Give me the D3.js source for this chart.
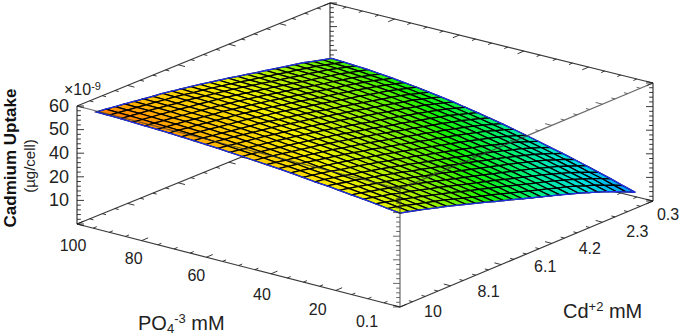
<!DOCTYPE html>
<html>
<head>
<meta charset="utf-8">
<script src="https://cdn.jsdelivr.net/npm/d3@7"></script>
<style>
  html, body { margin: 0; padding: 0; background: #fff; }
  svg { display: block; }
  text { font-family: "Liberation Sans", Arial, sans-serif; fill: #222; }
</style>
</head>
<body>
<div id="chart"></div>
<script>
// Axis labels
const phosphateTicks = [100, 80, 60, 40, 20, 0.1];
const phosphateLabels = ['100', '80', '60', '40', '20', '0.1'];
const cadmiumTicks = [10, 8.06, 6.12, 4.18, 2.24, 0.3];
const cadmiumLabels = ['10', '8.1', '6.1', '4.2', '2.3', '0.3'];
const uptakeTicks = [0, 10, 20, 40, 50, 60];
const uptakeLabels = ['10', '20', '40', '50', '60'];

// Grid levels of the surface (mM)
const phosphateLevels = [0.1, 3.9, 7.6, 11.4, 15.1, 18.9, 22.6, 26.4, 30.1, 33.9, 37.7, 41.4, 45.2, 48.9, 52.7, 56.4, 60.2, 63.9, 67.7, 71.5, 75.2, 79, 82.7, 86.5, 90.2, 94];
const cadmiumLevels = [10, 9.64, 9.28, 8.92, 8.56, 8.2, 7.84, 7.47, 7.11, 6.75, 6.39, 6.03, 5.67, 5.31, 4.95, 4.59, 4.23, 3.87, 3.51, 3.15, 2.78, 2.42, 2.06, 1.7, 1.34, 0.98];

// Uptake (x10^-9 ug/cell), one row per cadmium level, one column per phosphate level
const uptake = [
  [49.8,50.4,51.1,51.7,52.2,52.8,53.4,53.8,54.4,54.9,55.4,55.8,56.2,56.6,57,57.4,57.7,58,58.3,58.6,58.8,59,59.2,59.4,59.5,59.6],
  [48.8,49.5,50.1,50.8,51.4,52,52.6,53.1,53.6,54.2,54.7,55.1,55.6,56,56.4,56.8,57.2,57.5,57.8,58.1,58.3,58.5,58.7,58.9,59,59.1],
  [47.7,48.4,49.1,49.8,50.4,51.1,51.6,52.2,52.8,53.3,53.9,54.3,54.8,55.3,55.7,56.1,56.5,56.8,57.2,57.4,57.7,57.9,58.1,58.3,58.4,58.5],
  [46.6,47.3,48.1,48.8,49.5,50.1,50.8,51.3,52,52.5,53.1,53.6,54.1,54.6,55,55.5,55.9,56.2,56.6,56.9,57.2,57.4,57.6,57.8,57.9,58],
  [45.4,46.2,47,47.7,48.4,49.1,49.8,50.4,51,51.6,52.2,52.8,53.3,53.8,54.3,54.8,55.2,55.5,55.9,56.2,56.5,56.7,57,57.2,57.3,57.4],
  [44.3,45.1,45.9,46.7,47.4,48.2,48.9,49.5,50.2,50.8,51.4,52,52.6,53.1,53.6,54.1,54.5,54.9,55.2,55.6,55.9,56.1,56.4,56.6,56.7,56.8],
  [43.1,44,44.8,45.6,46.4,47.2,47.9,48.5,49.3,49.9,50.6,51.2,51.8,52.3,52.8,53.3,53.8,54.2,54.6,54.9,55.2,55.5,55.7,55.9,56.1,56.2],
  [41.8,42.7,43.6,44.4,45.3,46.1,46.9,47.6,48.3,49,49.7,50.4,51,51.5,52.1,52.6,53.1,53.6,54,54.3,54.7,54.9,55.2,55.4,55.6,55.7],
  [40.5,41.4,42.4,43.3,44.1,45,45.8,46.5,47.3,48,48.8,49.4,50.1,50.7,51.2,51.8,52.3,52.8,53.2,53.6,53.9,54.2,54.5,54.7,54.9,55],
  [38.5,40.2,41.2,42.1,43,43.9,44.7,45.5,46.3,47.1,47.8,48.5,49.2,49.8,50.4,51,51.5,51.9,52.4,52.8,53.2,53.5,53.8,54,54.1,54.3],
  [35.9,37.9,40,40.9,41.9,42.8,43.7,44.5,45.3,46.1,46.9,47.6,48.3,49,49.6,50.2,50.7,51.2,51.7,52.1,52.5,52.8,53.1,53.3,53.5,53.6],
  [33.4,35.5,37.6,39.5,40.7,41.7,42.6,43.4,44.3,45.1,45.9,46.7,47.4,48,48.7,49.3,49.9,50.4,50.9,51.3,51.7,52,52.3,52.6,52.7,52.9],
  [30.9,33,35.2,37.2,39.2,40.6,41.5,42.3,43.3,44.1,44.9,45.7,46.4,47.1,47.8,48.4,49,49.5,50,50.4,50.9,51.2,51.5,51.8,51.9,52.1],
  [28.3,30.5,32.8,34.8,36.9,38.9,40.4,41.3,42.2,43.1,43.9,44.7,45.5,46.2,46.8,47.5,48.1,48.7,49.2,49.6,50,50.4,50.7,51,51.1,51.3],
  [25.8,28,30.3,32.5,34.6,36.7,38.6,40.2,41.1,42,42.9,43.7,44.5,45.2,45.9,46.6,47.2,47.7,48.3,48.7,49.1,49.5,49.8,50.1,50.3,50.5],
  [23.2,25.6,27.9,30,32.2,34.4,36.4,38.2,40.1,41,41.9,42.7,43.5,44.2,44.9,45.7,46.3,46.8,47.4,47.8,48.3,48.6,49,49.3,49.4,49.6],
  [20.7,23,25.5,27.7,29.9,32.1,34.1,36,38,39.8,40.8,41.7,42.5,43.2,44,44.7,45.4,45.9,46.5,46.9,47.4,47.8,48.1,48.4,48.6,48.8],
  [19.1,20.6,23,25.3,27.6,29.8,31.9,33.8,35.9,37.8,39.6,40.7,41.5,42.3,43,43.8,44.4,45,45.6,46,46.5,46.9,47.3,47.5,47.7,47.9],
  [17.8,19,20.6,22.9,25.2,27.6,29.7,31.6,33.7,35.7,37.6,39.3,40.5,41.3,42.1,42.8,43.5,44.1,44.7,45.2,45.6,46,46.4,46.7,46.9,47.1],
  [16.5,17.8,19.1,20.5,22.9,25.3,27.4,29.4,31.6,33.5,35.5,37.3,39,40.3,41.1,41.9,42.6,43.2,43.8,44.3,44.7,45.1,45.5,45.8,46,46.2],
  [15,16.4,17.7,18.9,20.3,22.7,24.9,27,29.2,31.2,33.3,35.1,36.9,38.6,40.1,40.9,41.6,42.2,42.8,43.4,43.9,44.3,44.7,45,45.2,45.4],
  [13.6,14.9,16.3,17.5,18.8,20.1,22.4,24.5,26.8,28.9,31,32.9,34.8,36.5,38.2,39.8,40.6,41.3,41.9,42.4,43,43.4,43.8,44.1,44.3,44.5],
  [12.1,13.5,14.9,16.2,17.5,18.8,20,22.1,24.5,26.6,28.8,30.7,32.7,34.4,36.1,37.9,39.4,40.3,41,41.5,42,42.5,42.9,43.3,43.5,43.7],
  [10.4,11.8,13.3,14.6,16,17.3,18.5,19.6,21.7,23.9,26.1,28.1,30.1,31.9,33.7,35.5,37,38.4,39.7,40.4,41,41.4,41.8,42.2,42.4,42.6],
  [8.7,10.2,11.7,13,14.4,15.8,17,18.2,19.4,21.2,23.5,25.5,27.6,29.4,31.2,33.1,34.7,36,37.4,38.6,39.7,40.3,40.8,41.1,41.3,41.6],
  [6.8,8.3,9.9,11.3,12.7,14.1,15.4,16.6,17.9,19.1,20.6,22.8,24.9,26.8,28.7,30.6,32.2,33.7,35.1,36.3,37.5,38.4,39.4,40,40.3,40.5]
];

const width = 686, height = 336;
const svg = d3.select('#chart').append('svg').attr('width', width).attr('height', height);

// Oblique projection of the box: front bottom corner is (400,307)
const pX = d3.scaleLinear().domain([0.1, 100]).range([400, 77]);
const pY = d3.scaleLinear().domain([0.1, 100]).range([307, 224]);
const cdX = d3.scaleLinear().domain([10, 0.3]).range([0, 253]);
const cdY = d3.scaleLinear().domain([10, 0.3]).range([0, -106]);
const zH = d3.scaleLinear().domain(uptakeTicks).range([0, 23.6, 47.2, 70.8, 94.4, 118]);

function project(p, cd, z) {
  return [pX(p) + cdX(cd), pY(p) + cdY(cd) - zH(z)];
}
// box lines sag a little towards the back corner
function boxPoint(p, cd, z) {
  const [x, y] = project(p, cd, z);
  const k = (p / 100) * (1 - (cd - 0.3) / 9.7);
  return [x, y + 3 * k];
}

const colour = d3.scaleLinear()
  .domain([0, 7, 15, 25, 38, 46, 52, 57, 60])
  .range(['#0000ff', '#0090ff', '#00e0e0', '#00f070', '#18f000', '#a0f000', '#f4f000', '#ffc000', '#ff7000']);

const line = d3.line();

function drawEdge(g, a, b) {
  g.append('path').attr('d', line([a, b])).attr('fill', 'none')
    .attr('stroke', '#3a3a3a').attr('stroke-width', 1.2);
}

// ticks along an edge, pos gives the point on the edge for an axis value
function drawTicks(g, values, pos, dir, major, minorPerMajor) {
  const path = d3.path();
  for (let i = 0; i < values.length; i++) {
    const p0 = pos(values[i]);
    path.moveTo(p0[0], p0[1]);
    path.lineTo(p0[0] + dir[0] * major, p0[1] + dir[1] * major);
    if (i < values.length - 1) {
      for (let m = 1; m < minorPerMajor; m++) {
        const pm = pos(values[i] + (values[i + 1] - values[i]) * m / minorPerMajor);
        path.moveTo(pm[0], pm[1]);
        path.lineTo(pm[0] + dir[0] * major * 0.55, pm[1] + dir[1] * major * 0.55);
      }
    }
  }
  g.append('path').attr('d', path.toString()).attr('fill', 'none')
    .attr('stroke', '#222').attr('stroke-width', 0.9);
}

const towardFrontP = [0.97, 0.25], towardBackP = [-0.97, -0.25];
const towardRightCd = [0.92, -0.39], towardFrontCd = [-0.92, 0.39];
const zTicks = uptakeTicks;

// Back of the box, behind the surface
const back = svg.append('g');
drawEdge(back, boxPoint(100, 10, 0), boxPoint(100, 0.3, 0));
drawEdge(back, boxPoint(100, 0.3, 0), boxPoint(0.1, 0.3, 0));
drawEdge(back, boxPoint(100, 10, 60), boxPoint(100, 0.3, 60));
drawEdge(back, boxPoint(100, 0.3, 60), boxPoint(0.1, 0.3, 60));
drawEdge(back, boxPoint(100, 0.3, 0), boxPoint(100, 0.3, 60));
drawEdge(back, boxPoint(100, 10, 0), boxPoint(100, 10, 60));
drawEdge(back, boxPoint(0.1, 0.3, 0), boxPoint(0.1, 0.3, 60));
drawEdge(back, boxPoint(0.1, 10, 0), boxPoint(100, 10, 0));
drawEdge(back, boxPoint(0.1, 10, 0), boxPoint(0.1, 0.3, 0));
drawTicks(back, cadmiumTicks, c => boxPoint(100, c, 60), towardFrontP, 7, 4);
drawTicks(back, cadmiumTicks, c => boxPoint(100, c, 0), towardFrontP, 7, 4);
drawTicks(back, phosphateTicks, p => boxPoint(p, 0.3, 60), towardFrontCd, 7, 4);
drawTicks(back, phosphateTicks, p => boxPoint(p, 0.3, 0), towardFrontCd, 7, 4);
drawTicks(back, phosphateTicks, p => boxPoint(p, 10, 0), towardRightCd, 7, 4);
drawTicks(back, cadmiumTicks, c => boxPoint(0.1, c, 0), towardBackP, 7, 4);
drawTicks(back, zTicks, z => boxPoint(100, 10, z), [1, 0], 7, 5);
drawTicks(back, zTicks, z => boxPoint(100, 0.3, z), [1, 0], 7, 5);
drawTicks(back, zTicks, z => boxPoint(0.1, 0.3, z), [-1, 0], 7, 5);

// Surface cells, one per pair of neighbouring grid levels
const cells = [];
for (let r = cadmiumLevels.length - 2; r >= 0; r--) {
  for (let c = phosphateLevels.length - 2; c >= 0; c--) {
    cells.push({ r, c });
  }
}
const surface = svg.append('g');
surface.selectAll('path.cell')
  .data(cells)
  .enter()
  .append('path')
  .attr('class', 'cell')
  .attr('d', d => {
    const pts = [[d.r, d.c], [d.r, d.c + 1], [d.r + 1, d.c + 1], [d.r + 1, d.c]]
      .map(([r, c]) => project(phosphateLevels[c], cadmiumLevels[r], uptake[r][c]));
    return line(pts) + 'Z';
  })
  .attr('fill', d => colour(d3.mean([uptake[d.r][d.c], uptake[d.r][d.c + 1], uptake[d.r + 1][d.c], uptake[d.r + 1][d.c + 1]])))
  .attr('stroke', '#000')
  .attr('stroke-width', 1.25);

// Blue outline of the surface
const lastRow = cadmiumLevels.length - 1, lastCol = phosphateLevels.length - 1;
const outline = [];
phosphateLevels.forEach((p, c) => outline.push(project(p, cadmiumLevels[0], uptake[0][c])));
cadmiumLevels.forEach((cd, r) => outline.push(project(phosphateLevels[lastCol], cd, uptake[r][lastCol])));
phosphateLevels.slice().reverse().forEach((p, i) => outline.push(project(p, cadmiumLevels[lastRow], uptake[lastRow][lastCol - i])));
cadmiumLevels.slice().reverse().forEach((cd, i) => outline.push(project(phosphateLevels[0], cd, uptake[lastRow - i][0])));
svg.append('path').attr('d', line(outline) + 'Z').attr('fill', 'none')
  .attr('stroke', '#2030e8').attr('stroke-width', 1.3);

// Front edges drawn over the surface
const front = svg.append('g').attr('opacity', 0.75);
drawEdge(front, boxPoint(100, 10, 60), boxPoint(0.1, 10, 60));
drawEdge(front, boxPoint(0.1, 0.3, 60), boxPoint(0.1, 10, 60));
drawEdge(front, boxPoint(0.1, 10, 0), boxPoint(0.1, 10, 60));
drawTicks(front, zTicks, z => boxPoint(0.1, 10, z), [-1, 0], 7, 5);
drawTicks(front, cadmiumTicks, c => boxPoint(0.1, c, 60), towardBackP, 7, 4);

// Tick labels, hand placed off their ticks as in the figure
const pLabelOffset = [[-4, 23], [-8, 19], [-10, 20], [-9, 22], [-18, 20], [-33, 16]];
const cdLabelOffset = [[33, 6], [38, 7], [44, 3], [38, 6], [35, 11], [15, 15]];
const labels = svg.append('g').attr('font-size', 16).attr('text-anchor', 'middle').attr('dominant-baseline', 'middle');
labels.selectAll('text.p').data(phosphateTicks).enter().append('text')
  .attr('class', 'p')
  .attr('x', (d, i) => boxPoint(d, 10, 0)[0] + pLabelOffset[i][0])
  .attr('y', (d, i) => boxPoint(d, 10, 0)[1] + pLabelOffset[i][1])
  .text((d, i) => phosphateLabels[i]);
labels.selectAll('text.cd').data(cadmiumTicks).enter().append('text')
  .attr('class', 'cd')
  .attr('x', (d, i) => boxPoint(0.1, d, 0)[0] + cdLabelOffset[i][0])
  .attr('y', (d, i) => boxPoint(0.1, d, 0)[1] + cdLabelOffset[i][1])
  .text((d, i) => cadmiumLabels[i]);
svg.append('g').attr('font-size', 18).attr('text-anchor', 'end').attr('dominant-baseline', 'middle')
  .selectAll('text').data(uptakeTicks.slice(1)).enter().append('text')
  .attr('x', 69)
  .attr('y', d => boxPoint(100, 10, d)[1] + 1)
  .text((d, i) => uptakeLabels[i]);

// Exponent above the z axis
const exponent = svg.append('text').attr('x', 64).attr('y', 95).attr('font-size', 16);
exponent.append('tspan').text('×10');
exponent.append('tspan').attr('font-size', 11).attr('dy', -5).text('-9');

// Axis titles
svg.append('text')
  .attr('transform', 'translate(16,158) rotate(-90)')
  .attr('text-anchor', 'middle').attr('font-size', 17).attr('font-weight', 'bold')
  .style('fill', '#111')
  .text('Cadmium Uptake');
svg.append('text')
  .attr('transform', 'translate(35,166) rotate(-90)')
  .attr('text-anchor', 'middle').attr('font-size', 15)
  .text('(µg/cell)');

const poTitle = svg.append('text').attr('x', 138).attr('y', 330).attr('font-size', 20);
poTitle.append('tspan').text('PO');
poTitle.append('tspan').attr('font-size', 13).attr('dy', 3).text('4');
poTitle.append('tspan').attr('font-size', 13).attr('dy', -10).text('-3');
poTitle.append('tspan').attr('dy', 7).text(' mM');

const cdTitle = svg.append('text').attr('x', 563).attr('y', 318).attr('font-size', 20);
cdTitle.append('tspan').text('Cd');
cdTitle.append('tspan').attr('font-size', 13).attr('dy', -7).text('+2');
cdTitle.append('tspan').attr('dy', 7).text(' mM');
</script>
</body>
</html>
